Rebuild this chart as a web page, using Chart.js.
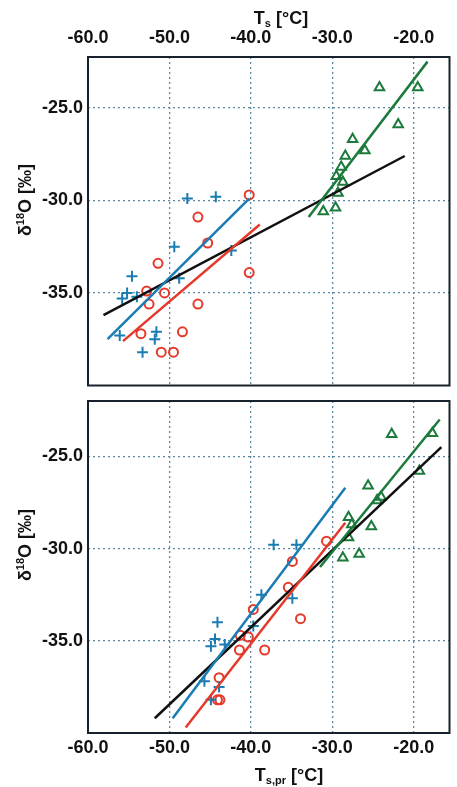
<!DOCTYPE html>
<html>
<head>
<meta charset="utf-8">
<script src="https://cdn.jsdelivr.net/npm/chart.js@4.4.1/dist/chart.umd.min.js"></script>
<style>
  body { margin: 0; background: #fff; width: 457px; height: 787px; position: relative; overflow: hidden;
         font-family: "Liberation Sans", Arial, sans-serif; color: #111; }
  canvas { position: absolute; left: 0; }
  .ttl { position: absolute; font-size: 18px; font-weight: bold; white-space: nowrap; transform: translate(-50%, -50%); }
  .ttl sub { font-size: 11px; vertical-align: -3px; }
  .ttl sup { font-size: 11px; vertical-align: 7px; }
  .rot { transform: translate(-50%, -50%) rotate(-90deg); }
</style>
</head>
<body>
<canvas id="topChart" width="457" height="393" style="top:0"></canvas>
<canvas id="botChart" width="457" height="394" style="top:393px"></canvas>
<div class="ttl" style="left:281px;top:18px">T<sub>s</sub> [°C]</div>
<div class="ttl" style="left:289px;top:775px">T<sub>s,pr</sub> [°C]</div>
<div class="ttl rot" style="left:25px;top:200px">δ<sup>18</sup>O [‰]</div>
<div class="ttl rot" style="left:25px;top:545px">δ<sup>18</sup>O [‰]</div>
<script>
// ─── DATA ─────────────────────────────────────────────────────
const xTicks = [-60, -50, -40, -30, -20];
const yTicks = [-25, -30, -35];

// top panel: Ts
const blueTopX = [-47.8, -44.3, -49.4, -54.6, -55.2, -55.8, -54.0, -48.8, -42.4, -56.1, -51.6, -51.8, -53.3];
const blueTopY = [-29.9, -29.8, -32.5, -34.1, -35.0, -35.3, -35.2, -34.2, -32.7, -37.3, -37.1, -37.5, -38.2];
const redTopX = [-40.2, -46.5, -45.3, -51.4, -52.8, -50.6, -52.5, -40.2, -46.5, -53.5, -48.4, -51.0, -49.5];
const redTopY = [-29.7, -30.9, -32.3, -33.4, -34.9, -35.0, -35.6, -33.9, -35.6, -37.2, -37.1, -38.2, -38.2];
const greenTopX = [-24.2, -19.5, -21.9, -27.5, -26.0, -28.4, -28.9, -29.5, -28.7, -29.3, -31.1, -29.6];
const greenTopY = [-23.9, -23.9, -25.9, -26.7, -27.3, -27.6, -28.2, -28.7, -29.0, -29.6, -30.6, -30.4];
const fitTopBlack = [[-58.1, -36.2], [-21.1, -27.6]];
const fitTopBlue = [[-57.6, -37.5], [-40.2, -29.9]];
const fitTopRed = [[-55.7, -37.6], [-38.9, -31.3]];
const fitTopGreen = [[-32.9, -30.9], [-18.3, -22.5]];

// bottom panel: Ts,pr
const blueBotX = [-37.2, -34.4, -38.7, -34.9, -44.1, -44.4, -44.9, -43.2, -39.7, -45.7, -43.9, -44.9];
const blueBotY = [-29.8, -29.8, -32.5, -32.7, -34.0, -34.9, -35.3, -35.2, -34.2, -37.2, -37.5, -38.2];
const redBotX = [-30.7, -34.9, -35.4, -39.7, -33.9, -41.3, -40.3, -41.4, -38.3, -43.9, -43.8, -44.1];
const redBotY = [-29.6, -30.7, -32.1, -33.3, -33.8, -34.7, -34.8, -35.5, -35.5, -37.0, -38.2, -38.2];
const greenBotX = [-22.7, -17.7, -19.3, -25.6, -24.0, -24.5, -28.0, -27.6, -25.2, -28.0, -28.7, -26.7];
const greenBotY = [-23.8, -23.75, -25.8, -26.6, -27.2, -27.4, -28.3, -28.7, -28.8, -29.4, -30.5, -30.3];
const fitBotBlack = [[-51.8, -39.2], [-16.6, -24.5]];
const fitBotBlue = [[-49.6, -39.2], [-28.4, -26.7]];
const fitBotRed = [[-48.0, -39.7], [-28.4, -28.6]];
const fitBotGreen = [[-31.5, -31.0], [-16.8, -23.0]];

const COLORS = {
  blue: '#1a7cb2',
  red: '#e5392b',
  green: '#1c7a3c',
  black: '#111111',
  grid: '#5a8aa3',
  frame: '#18222c',
};

// ─── HELPERS ──────────────────────────────────────────────────
const pts = (xs, ys) => xs.map((x, i) => ({ x, y: ys[i] }));
const seg = s => s.map(([x, y]) => ({ x, y }));

function scatterSet(data, color, style, radius) {
  return {
    type: 'scatter', data, pointStyle: style, pointRadius: radius,
    borderColor: color, backgroundColor: 'rgba(0,0,0,0)', pointBorderWidth: 2, borderWidth: 2,
  };
}
function lineSet(data, color) {
  return {
    type: 'line', data, borderColor: color, borderWidth: 2.5, pointRadius: 0, fill: false, tension: 0,
  };
}

const framePlugin = {
  id: 'frame',
  afterDraw(chart) {
    const { ctx, chartArea: a } = chart;
    ctx.save();
    ctx.strokeStyle = COLORS.frame;
    ctx.lineWidth = 2;
    ctx.strokeRect(a.left, a.top, a.right - a.left, a.bottom - a.top);
    ctx.restore();
  },
};

const tickFont = { family: '"Liberation Sans", Arial, sans-serif', size: 18, weight: 'bold' };
const noPad = s => { s.paddingTop = 0; s.paddingBottom = 0; s.paddingLeft = 0; s.paddingRight = 0; };

function makeChart(id, sets, xPos, yMin, yMax, padding, xHeight, xPad) {
  return new Chart(document.getElementById(id), {
    data: { datasets: sets },
    plugins: [framePlugin],
    options: {
      responsive: false,
      animation: false,
      layout: { padding },
      plugins: { legend: { display: false }, tooltip: { enabled: false } },
      scales: {
        x: {
          type: 'linear', position: xPos, min: -60, max: -15.6,
          afterBuildTicks: s => { s.ticks = xTicks.map(v => ({ value: v })); },
          afterFit: s => { s.height = xHeight; noPad(s); },
          ticks: { color: '#111', font: tickFont, padding: xPad, maxRotation: 0, callback: v => v.toFixed(1) },
          grid: { color: COLORS.grid, lineWidth: 1.3, drawTicks: false },
          border: { display: false, dash: [2, 3] },
        },
        y: {
          type: 'linear', min: yMin, max: yMax,
          afterBuildTicks: s => { s.ticks = yTicks.map(v => ({ value: v })); },
          afterFit: s => { s.width = 88; noPad(s); },
          ticks: { color: '#111', font: tickFont, padding: 5, callback: v => v.toFixed(1) },
          grid: { color: COLORS.grid, lineWidth: 1.3, drawTicks: false },
          border: { display: false, dash: [2, 3] },
        },
      },
    },
  });
}

// ─── CHARTS ───────────────────────────────────────────────────
makeChart('topChart', [
  lineSet(seg(fitTopBlue), COLORS.blue),
  lineSet(seg(fitTopRed), COLORS.red),
  lineSet(seg(fitTopGreen), COLORS.green),
  lineSet(seg(fitTopBlack), COLORS.black),
  scatterSet(pts(blueTopX, blueTopY), COLORS.blue, 'cross', 5.5),
  scatterSet(pts(redTopX, redTopY), COLORS.red, 'circle', 4.5),
  scatterSet(pts(greenTopX, greenTopY), COLORS.green, 'triangle', 5.5),
], 'top', -40, -22.25, { top: 0, right: 2, bottom: 7, left: 0 }, 57, 8);

makeChart('botChart', [
  lineSet(seg(fitBotBlue), COLORS.blue),
  lineSet(seg(fitBotRed), COLORS.red),
  lineSet(seg(fitBotGreen), COLORS.green),
  lineSet(seg(fitBotBlack), COLORS.black),
  scatterSet(pts(blueBotX, blueBotY), COLORS.blue, 'cross', 5.5),
  scatterSet(pts(redBotX, redBotY), COLORS.red, 'circle', 4.5),
  scatterSet(pts(greenBotX, greenBotY), COLORS.green, 'triangle', 5.5),
], 'bottom', -40, -22, { top: 8, right: 2, bottom: 0, left: 0 }, 54, 4);
</script>
</body>
</html>
